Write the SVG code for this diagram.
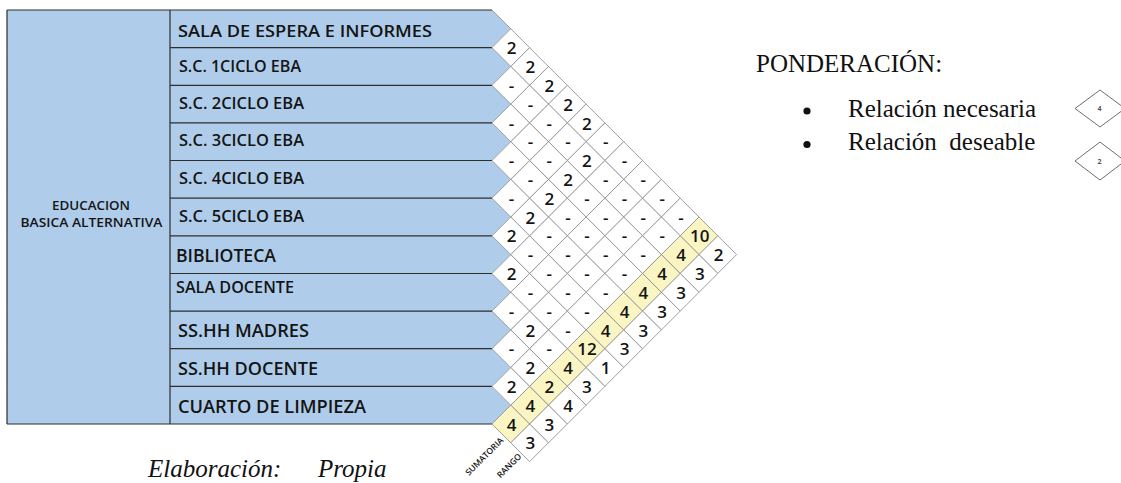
<svg xmlns="http://www.w3.org/2000/svg" xmlns:xlink="http://www.w3.org/1999/xlink" width="1121" height="483" viewBox="0 0 1121 483">
<style>
.bg{fill:#ffffff}
.row{fill:#AFCDEA}
.sep{stroke:#2e2e2e;stroke-width:1.2;fill:none}
.slant{stroke:#8a8a8a;stroke-width:0.8;fill:none}
.cell{fill:#ffffff;stroke:#8a8a8a;stroke-width:0.8}
.sum{fill:#FAF5C3;stroke:#8a8a8a;stroke-width:0.8}
.lbl{font-family:"Open Sans","Liberation Sans",sans-serif;font-weight:600;fill:#141414}
.ctr{text-anchor:middle}
.v{font-family:"Open Sans","Liberation Sans",sans-serif;font-weight:600;font-size:17px;text-anchor:middle;fill:#141414}
.small{font-family:"Open Sans","Liberation Sans",sans-serif;font-weight:600;font-size:8.5px;text-anchor:end;fill:#141414}
.lg{font-family:"Liberation Serif","Times New Roman",serif;font-size:25px;fill:#111}
.it{font-style:italic}
.ld{fill:#ffffff;stroke:#6e6e6e;stroke-width:1}
.ldv{font-family:"Open Sans","Liberation Sans",sans-serif;font-weight:700;font-size:7px;text-anchor:middle;fill:#555}
</style>
<defs>
<polygon id="dm" points="-18.82,0 0,-18.82 18.82,0 0,18.82"/>
</defs>
<rect class="bg" x="0" y="0" width="1121" height="483"/>

<g id="area-eba">
<rect class="row" x="7" y="10" width="163" height="414"/>
<text class="lbl ctr" x="91" y="210" font-size="12.2" textLength="78" lengthAdjust="spacingAndGlyphs">EDUCACION</text>
<text class="lbl ctr" x="91.5" y="227" font-size="12.2" textLength="142" lengthAdjust="spacingAndGlyphs">BASICA ALTERNATIVA</text>
</g>

<g id="r1"><polygon class="row" points="170,10 492,10 510.8,28.8 492,47.6 170,47.6"/>
<text class="lbl" x="178" y="36.5" font-size="16.6" textLength="254" lengthAdjust="spacingAndGlyphs">SALA DE ESPERA E INFORMES</text></g>
<g id="r2"><polygon class="row" points="170,47.6 492,47.6 510.8,66.5 492,85.3 170,85.3"/>
<text class="lbl" x="179" y="72" font-size="16.6" textLength="122" lengthAdjust="spacingAndGlyphs">S.C. 1CICLO EBA</text></g>
<g id="r3"><polygon class="row" points="170,85.3 492,85.3 510.8,104.1 492,122.9 170,122.9"/>
<text class="lbl" x="179" y="108.5" font-size="16.6" textLength="125" lengthAdjust="spacingAndGlyphs">S.C. 2CICLO EBA</text></g>
<g id="r4"><polygon class="row" points="170,122.9 492,122.9 510.8,141.7 492,160.5 170,160.5"/>
<text class="lbl" x="179" y="146" font-size="16.6" textLength="125" lengthAdjust="spacingAndGlyphs">S.C. 3CICLO EBA</text></g>
<g id="r5"><polygon class="row" points="170,160.5 492,160.5 510.8,179.4 492,198.2 170,198.2"/>
<text class="lbl" x="179" y="184" font-size="16.6" textLength="125" lengthAdjust="spacingAndGlyphs">S.C. 4CICLO EBA</text></g>
<g id="r6"><polygon class="row" points="170,198.2 492,198.2 510.8,217 492,235.8 170,235.8"/>
<text class="lbl" x="179" y="221.5" font-size="16.6" textLength="125" lengthAdjust="spacingAndGlyphs">S.C. 5CICLO EBA</text></g>
<g id="r7"><polygon class="row" points="170,235.8 492,235.8 510.8,254.6 492,273.5 170,273.5"/>
<text class="lbl" x="176" y="261.5" font-size="18.8" textLength="100" lengthAdjust="spacingAndGlyphs">BIBLIOTECA</text></g>
<g id="r8"><polygon class="row" points="170,273.5 492,273.5 510.8,292.3 492,311.1 170,311.1"/>
<text class="lbl" x="176" y="292.5" font-size="17" textLength="118" lengthAdjust="spacingAndGlyphs">SALA DOCENTE</text></g>
<g id="r9"><polygon class="row" points="170,311.1 492,311.1 510.8,329.9 492,348.7 170,348.7"/>
<text class="lbl" x="178" y="337" font-size="17.4" textLength="131" lengthAdjust="spacingAndGlyphs">SS.HH MADRES</text></g>
<g id="r10"><polygon class="row" points="170,348.7 492,348.7 510.8,367.5 492,386.4 170,386.4"/>
<text class="lbl" x="178" y="375" font-size="18.8" textLength="140" lengthAdjust="spacingAndGlyphs">SS.HH DOCENTE</text></g>
<g id="r11"><polygon class="row" points="170,386.4 492,386.4 510.8,405.2 492,424 170,424"/>
<text class="lbl" x="178" y="412.5" font-size="18.8" textLength="188" lengthAdjust="spacingAndGlyphs">CUARTO DE LIMPIEZA</text></g>

<g id="frame">
<path class="sep" d="M7,10 H492 M7,424 H492 M7,10 V424 M170,10 V424 M170,47.6 H492 M170,85.3 H492 M170,122.9 H492 M170,160.5 H492 M170,198.2 H492 M170,235.8 H492 M170,273.5 H492 M170,311.1 H492 M170,348.7 H492 M170,386.4 H492"/>
<path class="slant" d="M492,10 L510.8,28.8"/>
</g>

<g id="matrix">
<use href="#dm" class="cell" x="510.8" y="47.6"/><use href="#dm" class="cell" x="529.6" y="66.5"/><use href="#dm" class="cell" x="548.5" y="85.3"/><use href="#dm" class="cell" x="567.3" y="104.1"/><use href="#dm" class="cell" x="586.1" y="122.9"/><use href="#dm" class="cell" x="604.9" y="141.7"/><use href="#dm" class="cell" x="623.7" y="160.5"/><use href="#dm" class="cell" x="642.5" y="179.4"/><use href="#dm" class="cell" x="661.4" y="198.2"/><use href="#dm" class="cell" x="680.2" y="217"/><use href="#dm" class="sum" x="699" y="235.8"/><use href="#dm" class="cell" x="717.8" y="254.6"/>
<use href="#dm" class="cell" x="510.8" y="85.3"/><use href="#dm" class="cell" x="529.6" y="104.1"/><use href="#dm" class="cell" x="548.5" y="122.9"/><use href="#dm" class="cell" x="567.3" y="141.7"/><use href="#dm" class="cell" x="586.1" y="160.5"/><use href="#dm" class="cell" x="604.9" y="179.4"/><use href="#dm" class="cell" x="623.7" y="198.2"/><use href="#dm" class="cell" x="642.5" y="217"/><use href="#dm" class="cell" x="661.4" y="235.8"/><use href="#dm" class="sum" x="680.2" y="254.6"/><use href="#dm" class="cell" x="699" y="273.5"/>
<use href="#dm" class="cell" x="510.8" y="122.9"/><use href="#dm" class="cell" x="529.6" y="141.7"/><use href="#dm" class="cell" x="548.5" y="160.5"/><use href="#dm" class="cell" x="567.3" y="179.4"/><use href="#dm" class="cell" x="586.1" y="198.2"/><use href="#dm" class="cell" x="604.9" y="217"/><use href="#dm" class="cell" x="623.7" y="235.8"/><use href="#dm" class="cell" x="642.5" y="254.6"/><use href="#dm" class="sum" x="661.4" y="273.5"/><use href="#dm" class="cell" x="680.2" y="292.3"/>
<use href="#dm" class="cell" x="510.8" y="160.5"/><use href="#dm" class="cell" x="529.6" y="179.4"/><use href="#dm" class="cell" x="548.5" y="198.2"/><use href="#dm" class="cell" x="567.3" y="217"/><use href="#dm" class="cell" x="586.1" y="235.8"/><use href="#dm" class="cell" x="604.9" y="254.6"/><use href="#dm" class="cell" x="623.7" y="273.5"/><use href="#dm" class="sum" x="642.5" y="292.3"/><use href="#dm" class="cell" x="661.4" y="311.1"/>
<use href="#dm" class="cell" x="510.8" y="198.2"/><use href="#dm" class="cell" x="529.6" y="217"/><use href="#dm" class="cell" x="548.5" y="235.8"/><use href="#dm" class="cell" x="567.3" y="254.6"/><use href="#dm" class="cell" x="586.1" y="273.5"/><use href="#dm" class="cell" x="604.9" y="292.3"/><use href="#dm" class="sum" x="623.7" y="311.1"/><use href="#dm" class="cell" x="642.5" y="329.9"/>
<use href="#dm" class="cell" x="510.8" y="235.8"/><use href="#dm" class="cell" x="529.6" y="254.6"/><use href="#dm" class="cell" x="548.5" y="273.5"/><use href="#dm" class="cell" x="567.3" y="292.3"/><use href="#dm" class="cell" x="586.1" y="311.1"/><use href="#dm" class="sum" x="604.9" y="329.9"/><use href="#dm" class="cell" x="623.7" y="348.7"/>
<use href="#dm" class="cell" x="510.8" y="273.5"/><use href="#dm" class="cell" x="529.6" y="292.3"/><use href="#dm" class="cell" x="548.5" y="311.1"/><use href="#dm" class="cell" x="567.3" y="329.9"/><use href="#dm" class="sum" x="586.1" y="348.7"/><use href="#dm" class="cell" x="604.9" y="367.5"/>
<use href="#dm" class="cell" x="510.8" y="311.1"/><use href="#dm" class="cell" x="529.6" y="329.9"/><use href="#dm" class="cell" x="548.5" y="348.7"/><use href="#dm" class="sum" x="567.3" y="367.5"/><use href="#dm" class="cell" x="586.1" y="386.4"/>
<use href="#dm" class="cell" x="510.8" y="348.7"/><use href="#dm" class="cell" x="529.6" y="367.5"/><use href="#dm" class="sum" x="548.5" y="386.4"/><use href="#dm" class="cell" x="567.3" y="405.2"/>
<use href="#dm" class="cell" x="510.8" y="386.4"/><use href="#dm" class="sum" x="529.6" y="405.2"/><use href="#dm" class="cell" x="548.5" y="424"/>
<use href="#dm" class="sum" x="510.8" y="424"/><use href="#dm" class="cell" x="529.6" y="442.8"/>

<g transform="translate(0.8,1.2)">
<text class="v" x="510.8" y="53.1">2</text><text class="v" x="529.6" y="72">2</text><text class="v" x="548.5" y="90.8">2</text><text class="v" x="567.3" y="109.6">2</text><text class="v" x="586.1" y="128.4">2</text><text class="v" x="604.9" y="147.2">-</text><text class="v" x="623.7" y="166">-</text><text class="v" x="642.5" y="184.9">-</text><text class="v" x="661.4" y="203.7">-</text><text class="v" x="680.2" y="222.5">-</text><text class="v" x="699" y="241.3">10</text><text class="v" x="717.8" y="260.1">2</text>
<text class="v" x="510.8" y="90.8">-</text><text class="v" x="529.6" y="109.6">-</text><text class="v" x="548.5" y="128.4">-</text><text class="v" x="567.3" y="147.2">-</text><text class="v" x="586.1" y="166">2</text><text class="v" x="604.9" y="184.9">-</text><text class="v" x="623.7" y="203.7">-</text><text class="v" x="642.5" y="222.5">-</text><text class="v" x="661.4" y="241.3">-</text><text class="v" x="680.2" y="260.1">4</text><text class="v" x="699" y="279">3</text>
<text class="v" x="510.8" y="128.4">-</text><text class="v" x="529.6" y="147.2">-</text><text class="v" x="548.5" y="166">-</text><text class="v" x="567.3" y="184.9">2</text><text class="v" x="586.1" y="203.7">-</text><text class="v" x="604.9" y="222.5">-</text><text class="v" x="623.7" y="241.3">-</text><text class="v" x="642.5" y="260.1">-</text><text class="v" x="661.4" y="279">4</text><text class="v" x="680.2" y="297.8">3</text>
<text class="v" x="510.8" y="166">-</text><text class="v" x="529.6" y="184.9">-</text><text class="v" x="548.5" y="203.7">2</text><text class="v" x="567.3" y="222.5">-</text><text class="v" x="586.1" y="241.3">-</text><text class="v" x="604.9" y="260.1">-</text><text class="v" x="623.7" y="279">-</text><text class="v" x="642.5" y="297.8">4</text><text class="v" x="661.4" y="316.6">3</text>
<text class="v" x="510.8" y="203.7">-</text><text class="v" x="529.6" y="222.5">2</text><text class="v" x="548.5" y="241.3">-</text><text class="v" x="567.3" y="260.1">-</text><text class="v" x="586.1" y="279">-</text><text class="v" x="604.9" y="297.8">-</text><text class="v" x="623.7" y="316.6">4</text><text class="v" x="642.5" y="335.4">3</text>
<text class="v" x="510.8" y="241.3">2</text><text class="v" x="529.6" y="260.1">-</text><text class="v" x="548.5" y="279">-</text><text class="v" x="567.3" y="297.8">-</text><text class="v" x="586.1" y="316.6">-</text><text class="v" x="604.9" y="335.4">4</text><text class="v" x="623.7" y="354.2">3</text>
<text class="v" x="510.8" y="279">2</text><text class="v" x="529.6" y="297.8">-</text><text class="v" x="548.5" y="316.6">-</text><text class="v" x="567.3" y="335.4">-</text><text class="v" x="586.1" y="354.2">12</text><text class="v" x="604.9" y="373">1</text>
<text class="v" x="510.8" y="316.6">-</text><text class="v" x="529.6" y="335.4">2</text><text class="v" x="548.5" y="354.2">-</text><text class="v" x="567.3" y="373">4</text><text class="v" x="586.1" y="391.9">3</text>
<text class="v" x="510.8" y="354.2">-</text><text class="v" x="529.6" y="373">2</text><text class="v" x="548.5" y="391.9">2</text><text class="v" x="567.3" y="410.7">4</text>
<text class="v" x="510.8" y="391.9">2</text><text class="v" x="529.6" y="410.7">4</text><text class="v" x="548.5" y="429.5">3</text>
<text class="v" x="510.8" y="429.5">4</text><text class="v" x="529.6" y="448.3">3</text>
</g>

<text class="small" transform="translate(504,441) rotate(-45)">SUMATORIA</text>
<text class="small" transform="translate(522,457) rotate(-45)">RANGO</text>
</g>

<g id="legend">
<text class="lg" x="756" y="71.5">PONDERACIÓN:</text>
<circle cx="807" cy="111" r="3.6" fill="#111"/>
<circle cx="807" cy="144.5" r="3.6" fill="#111"/>
<text class="lg" x="848" y="117">Relación necesaria</text>
<text class="lg" x="848" y="150" xml:space="preserve">Relación  deseable</text>
<polygon class="ld" points="1075,108.5 1100,90 1125,108.5 1100,127"/>
<text class="ldv" x="1099.5" y="111">4</text>
<polygon class="ld" points="1075,161 1100,142 1125,161 1100,180"/>
<text class="ldv" x="1099.5" y="163.5">2</text>
</g>

<g id="caption">
<text class="lg it" x="148" y="477">Elaboración:</text>
<text class="lg it" x="318" y="477">Propia</text>
</g>
</svg>
